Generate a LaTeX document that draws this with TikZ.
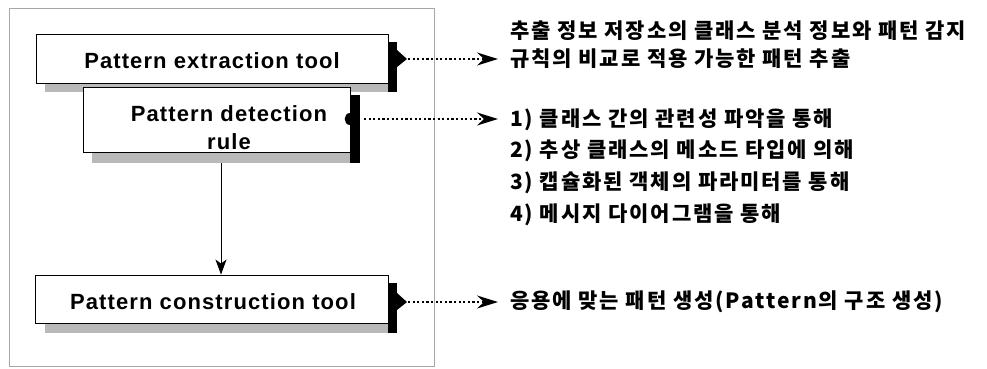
\documentclass[tikz,border=0pt]{standalone}
\usepackage{fontspec}
\setmainfont{Liberation Sans}
\newfontfamily\efont[LetterSpace=5]{Liberation Sans}
\newfontfamily\kr[LetterSpace=9]{Noto Sans CJK KR}
\usetikzlibrary{arrows.meta}
\begin{document}
\begin{tikzpicture}[x=1pt,y=-1pt,
  boxst/.style={draw=black, line width=0.9pt, fill=white, inner sep=0pt},
  engl/.style={font=\efont\bfseries\fontsize{22}{28}\selectfont, align=center, inner sep=0pt},
  kort/.style={anchor=west, inner sep=0pt, font=\kr\bfseries\fontsize{21}{24}\selectfont},
  dotarrow/.style={line width=1.8pt, dash pattern=on 2.2pt off 2.4pt, -{Stealth[length=21pt,width=13pt,inset=7pt]}},
  solidarrow/.style={line width=0.9pt, -{Stealth[length=15pt,width=11pt,inset=4pt]}},
  shadowdark/.style={fill=black},
  shadowlight/.style={fill=gray!55}]
\useasboundingbox (0,0) rectangle (987,368);
% outer frame
\draw[gray!70, line width=1pt] (9,8) rectangle (434,366);

% box 1 shadow + box
\fill[shadowlight] (45,83) rectangle (397,92);
\fill[shadowdark] (388,42) rectangle (397,92);
\node[boxst, minimum width=352pt, minimum height=49pt] (ext) at (212,58.5) {};
\node[engl] (extt) at (212,61) {Pattern extraction tool};
\fill[shadowdark] (397,50) -- (407,59) -- (397,67) -- cycle;

% box 2 shadow + box
\fill[shadowlight] (92,152) rectangle (360,163);
\fill[shadowdark] (350,95) rectangle (360,163);
\node[boxst, minimum width=267pt, minimum height=65pt] (det) at (216.5,119.5) {};
\node[engl] (dett) at (229,128) {Pattern detection\\rule};
\fill[shadowdark] (350,113) .. controls (343,113) and (343,125) .. (350,125) -- cycle;

% box 3 shadow + box
\fill[shadowlight] (45,323) rectangle (397,333);
\fill[shadowdark] (388,283) rectangle (397,333);
\node[boxst, minimum width=353pt, minimum height=48pt] (con) at (211.5,299) {};
\node[engl] (cont) at (213,302) {Pattern construction tool};
\fill[shadowdark] (397,293) -- (407,302) -- (397,310) -- cycle;

% coordinates for connectors
\coordinate (s1) at (408,59);
\coordinate (e1) at (498,59);
\coordinate (s2) at (364,119);
\coordinate (e2) at (498,119);
\coordinate (s3) at (408,302);
\coordinate (e3) at (498,302);
\coordinate (vt) at (221,163);

\draw[dotarrow] (s1) -- (e1);
\draw[dotarrow] (s2) -- (e2);
\draw[dotarrow] (s3) -- (e3);
\draw[solidarrow] (vt) -- (con.north -| vt);

% texts
\node[kort] (k1) at (510,31) {추출 정보 저장소의 클래스 분석 정보와 패턴 감지};
\node[kort] (k2) at (510,59) {규칙의 비교로 적용 가능한 패턴 추출};
\node[kort] (k3) at (510,120) {1) 클래스 간의 관련성 파악을 통해};
\node[kort] (k4) at (510,151) {2) 추상 클래스의 메소드 타입에 의해};
\node[kort] (k5) at (510,183) {3) 캡슐화된 객체의 파라미터를 통해};
\node[kort] (k6) at (510,215) {4) 메시지 다이어그램을 통해};
\node[kort] (k7) at (510,302) {응용에 맞는 패턴 생성(Pattern의 구조 생성)};
\end{tikzpicture}
\end{document}
